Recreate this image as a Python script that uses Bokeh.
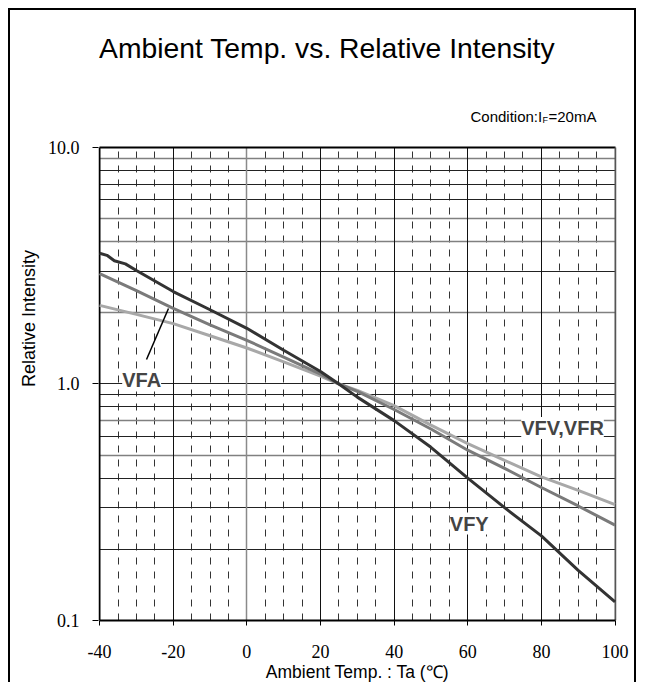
from bokeh.plotting import figure
from bokeh.models import FixedTicker, Grid, Label, CustomJSTickFormatter
from bokeh.core.properties import value
from bokeh.embed import file_html
from bokeh.resources import INLINE

# ---- data ----
temps_vfy = [-40, -38, -36, -33, -30, -20, -10, 0, 10, 20, 25, 30, 40, 50, 60, 70, 80, 90, 100]
vfy = [3.57, 3.50, 3.32, 3.22, 3.02, 2.46, 2.06, 1.72, 1.39, 1.13, 1.0, 0.88, 0.70, 0.54, 0.40, 0.30, 0.228, 0.163, 0.12]

temps = [-40, -30, -20, -10, 0, 10, 20, 25, 30, 40, 50, 60, 70, 80, 90, 100]
vfa = [2.93, 2.48, 2.09, 1.78, 1.53, 1.30, 1.10, 1.0, 0.93, 0.78, 0.645, 0.525, 0.44, 0.365, 0.305, 0.253]
vfv = [2.15, 1.97, 1.80, 1.60, 1.42, 1.24, 1.08, 1.0, 0.94, 0.81, 0.67, 0.56, 0.475, 0.405, 0.355, 0.309]

x_ticks = [-40, -20, 0, 20, 40, 60, 80, 100]
y_ticks = [0.1, 1.0, 10.0]
x_grid_dark = [-20, 20, 40, 60, 80]
x_grid_gray = [0]
x_grid_dash = [-35, -30, -25, -15, -10, -5, 5, 10, 15, 25, 30, 35, 45, 50, 55, 65, 70, 75, 85, 90, 95]
y_grid_dark = [0.2, 0.3, 0.4, 0.6, 0.8, 0.9, 1.0, 3, 6, 7, 8]
y_grid_gray = [0.5, 0.7, 2, 4, 5, 9]

title_text = "Ambient Temp. vs. Relative Intensity"
cond_parts = ["Condition:I", "F", "=20mA"]
x_label = "Ambient Temp. : Ta (\u2103)"
y_label = "Relative Intensity"

X_MIN, X_MAX = x_ticks[0], x_ticks[-1]
Y_MIN, Y_MAX = y_ticks[0], y_ticks[-1]

SANS = "Liberation Sans"
SERIF = "Liberation Serif"

p = figure(width=628, height=674, x_range=(-40.3, 100.4), y_range=(0.1, 35.8),
           y_axis_type="log", output_backend="svg", toolbar_location=None,
           min_border_left=88, min_border_right=22, min_border_top=6, min_border_bottom=64)
p.styles = {"margin-left": "8px", "margin-top": "8px",
            "border-left": "2px solid black", "border-top": "2px solid black",
            "border-right": "2px solid black"}

p.xgrid.visible = False
p.ygrid.visible = False
p.outline_line_color = None

has_cross = "cross_bounds" in Grid.properties()

def add_grid(dim, ticks, color, width, dash="solid"):
    if has_cross:
        cb = (Y_MIN, Y_MAX) if dim == 0 else (X_MIN, X_MAX)
        g = Grid(dimension=dim, ticker=FixedTicker(ticks=ticks), grid_line_color=color,
                 grid_line_width=width, grid_line_dash=dash, cross_bounds=cb)
        p.add_layout(g)
    else:
        n = len(ticks)
        if dim == 0:
            p.segment(x0=ticks, x1=ticks, y0=[Y_MIN] * n, y1=[Y_MAX] * n,
                      line_color=color, line_width=width, line_dash=dash, level="underlay")
        else:
            p.segment(x0=[X_MIN] * n, x1=[X_MAX] * n, y0=ticks, y1=ticks,
                      line_color=color, line_width=width, line_dash=dash, level="underlay")

add_grid(0, x_grid_dash, "#333333", 1, "7 7")
add_grid(1, y_grid_gray, "#808080", 1.5)
add_grid(1, y_grid_dark, "#222222", 1)
add_grid(0, x_grid_gray, "#8a8a8a", 1.5)
add_grid(0, x_grid_dark, "#111111", 1)
# plot borders (top at 10.0, left at -40, right at 100)
add_grid(1, [Y_MAX], "#000000", 2)
add_grid(0, [X_MIN], "#000000", 2)
add_grid(0, [X_MAX], "#555555", 2)

# axes
p.xaxis.ticker = FixedTicker(ticks=x_ticks)
p.yaxis.ticker = FixedTicker(ticks=y_ticks)
p.xaxis.formatter = CustomJSTickFormatter(code="return tick.toFixed(0)")
p.yaxis.formatter = CustomJSTickFormatter(code="return tick.toFixed(1)")
p.xaxis.bounds = (X_MIN, X_MAX)
for ax in (p.xaxis, p.yaxis):
    ax.major_tick_in = 0
    ax.major_tick_line_color = "black"
    ax.major_tick_line_width = 1
    ax.minor_tick_line_color = None
    ax.major_label_text_font = SERIF
    ax.major_label_text_font_size = "18px"
    ax.major_label_text_color = "black"
    ax.axis_label_text_font = SANS
    ax.axis_label_text_font_style = "normal"
    ax.axis_label_text_color = "black"
p.xaxis.axis_label_text_font_size = "17.5px"
p.yaxis.axis_label_text_font_size = "18px"
p.xaxis.axis_line_width = 2
p.xaxis.axis_line_color = "black"
p.yaxis.axis_line_color = None
p.xaxis.major_tick_out = 5
p.xaxis.major_label_standoff = 19
p.xaxis.axis_label = x_label
p.xaxis.axis_label_standoff = 1
p.yaxis.major_tick_out = 6
p.yaxis.major_label_standoff = 13
p.yaxis.axis_label = y_label
p.yaxis.axis_label_standoff = 6

# curves
p.line(temps, vfv, line_color="#a8a8a8", line_width=3)
p.line(temps, vfa, line_color="#7a7a7a", line_width=3)
p.line(temps_vfy, vfy, line_color="#333333", line_width=3)

# leader line for VFA
p.line([-27.26, -21.29], [1.269, 2.085], line_color="black", line_width=1.5)

# curve labels
for txt, x, y in [("VFA", -33.86, 1.035), ("VFY", 55.12, 0.257), ("VFV,VFR", 74.52, 0.652)]:
    p.add_layout(Label(x=x, y=y, text=txt, text_font=SANS, text_font_size="20px",
                       text_font_style="bold", text_baseline="middle", text_align="left",
                       background_fill_color="white"))

# title and condition (inside the extended frame, above the grid)
p.text(x=[-40.16], y=[26.47], text=[title_text], text_font=value(SANS),
       text_font_size="28.3px", text_align="left", text_baseline="middle", text_color="black")
p.text(x=[60.74], y=[13.52], text=[cond_parts[0]], text_font=value(SANS),
       text_font_size="15px", text_align="left", text_baseline="alphabetic", text_color="black")
p.text(x=[60.74], y=[13.52], text=[cond_parts[1]], text_font=value(SANS), x_offset=72, y_offset=3,
       text_font_size="9px", text_align="left", text_baseline="alphabetic", text_color="black")
p.text(x=[60.74], y=[13.52], text=[cond_parts[2]], text_font=value(SANS), x_offset=78,
       text_font_size="15px", text_align="left", text_baseline="alphabetic", text_color="black")

open("out.html", "w").write(file_html(p, INLINE))
